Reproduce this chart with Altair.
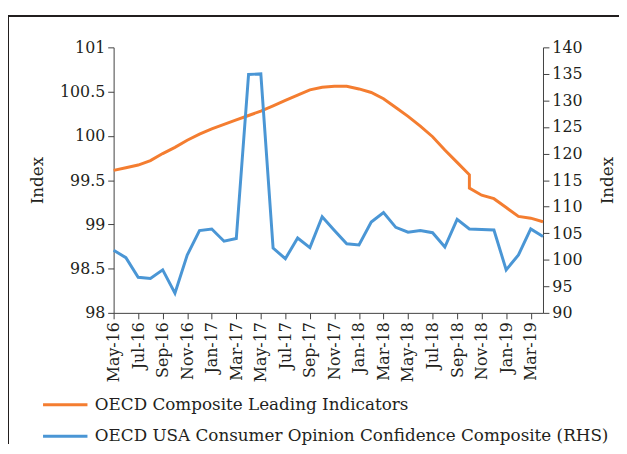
import altair as alt
import pandas as pd

months = ["May-16", "Jun-16", "Jul-16", "Aug-16", "Sep-16", "Oct-16", "Nov-16", "Dec-16",
          "Jan-17", "Feb-17", "Mar-17", "Apr-17", "May-17", "Jun-17", "Jul-17", "Aug-17",
          "Sep-17", "Oct-17", "Nov-17", "Dec-17", "Jan-18", "Feb-18", "Mar-18", "Apr-18",
          "May-18", "Jun-18", "Jul-18", "Aug-18", "Sep-18", "Oct-18", "Nov-18", "Dec-18",
          "Jan-19", "Feb-19", "Mar-19", "Apr-19"]

# OECD Composite Leading Indicators (left axis); Oct-18 has a step (two readings)
cli_months = months[:30] + ["Oct-18"] + months[30:]
cli_values = [99.61, 99.64, 99.67, 99.72, 99.80, 99.87, 99.95, 100.02,
              100.08, 100.13, 100.18, 100.23, 100.28, 100.34, 100.40, 100.46,
              100.52, 100.55, 100.56, 100.56, 100.53, 100.49, 100.42, 100.32,
              100.22, 100.11, 99.99, 99.84, 99.70, 99.56, 99.41, 99.33, 99.29,
              99.19, 99.09, 99.07, 99.03]

# OECD USA Consumer Opinion Confidence Composite (right axis)
cci_values = [101.8, 100.4, 96.7, 96.5, 98.1, 93.7, 100.9, 105.5,
              105.8, 103.5, 104.0, 134.9, 135.0, 102.2, 100.2, 104.1,
              102.3, 108.1, 105.5, 103.0, 102.8, 107.1, 108.9, 106.1,
              105.2, 105.5, 105.1, 102.4, 107.6, 105.8, 105.7, 105.6,
              98.1, 100.9, 105.8, 104.4]

series_names = ["OECD Composite Leading Indicators",
                "OECD USA Consumer Opinion Confidence Composite (RHS)"]
series_colors = ["#F47D30", "#4A96D5"]

left_ticks = [98, 98.5, 99, 99.5, 100, 100.5, 101]
right_ticks = [90, 95, 100, 105, 110, 115, 120, 125, 130, 135, 140]

cli_df = pd.DataFrame({"month": cli_months, "value": cli_values,
                       "order": list(range(len(cli_values))), "series": series_names[0]})
cci_df = pd.DataFrame({"month": months, "value": cci_values,
                       "order": list(range(len(cci_values))), "series": series_names[1]})

FONT = "DejaVu Serif"
TXT = "#231F20"
AX = "#404040"

x_enc = alt.X("month:O",
              scale=alt.Scale(type="point", domain=months, padding=0),
              axis=alt.Axis(values=months[::2], labelAngle=270, title=None,
                            labelFont=FONT, labelFontSize=16, labelColor=TXT,
                            tickSize=6, labelPadding=3, domainColor=AX, tickColor=AX,
                            grid=False))

color_enc = alt.Color("series:N",
                      scale=alt.Scale(domain=series_names, range=series_colors),
                      legend=alt.Legend(title=None, orient="none", legendX=-73, legendY=338,
                                        symbolType="stroke", symbolSize=2025,
                                        symbolStrokeWidth=3, labelFont=FONT,
                                        labelFontSize=17, labelColor=TXT, labelOffset=6,
                                        rowPadding=-16, padding=0, labelLimit=600))

cli_line = alt.Chart(cli_df).mark_line(strokeWidth=3).encode(
    x=x_enc,
    y=alt.Y("value:Q",
            scale=alt.Scale(domain=[98, 101], zero=False, nice=False),
            axis=alt.Axis(orient="left", values=left_ticks, format="~g", title="Index",
                          labelFont=FONT, labelFontSize=16, labelColor=TXT,
                          tickSize=6, labelPadding=3, domainColor=AX, tickColor=AX,
                          grid=False, titleFont=FONT, titleFontSize=17,
                          titleFontWeight="normal", titleColor=TXT, titleAngle=270,
                          titleX=-77, titleY=134.5, titleAlign="center",
                          titleBaseline="middle")),
    color=color_enc,
    order="order:Q",
)

cci_line = alt.Chart(cci_df).mark_line(strokeWidth=3).encode(
    x=x_enc,
    y=alt.Y("value:Q",
            scale=alt.Scale(domain=[90, 140], zero=False, nice=False),
            axis=alt.Axis(orient="right", values=right_ticks, title="Index",
                          labelFont=FONT, labelFontSize=16, labelColor=TXT,
                          tickSize=6, labelPadding=3, domainColor=AX, tickColor=AX,
                          grid=False, titleFont=FONT, titleFontSize=17,
                          titleFontWeight="normal", titleColor=TXT, titleAngle=270,
                          titleX=65, titleY=134.5, titleAlign="center",
                          titleBaseline="middle")),
    color=color_enc,
    order="order:Q",
)

frame_left = alt.Chart(cli_df).mark_rule(color=TXT, strokeWidth=1).encode(
    x=alt.value(-106.5), y=alt.value(-32), y2=alt.value(401))
frame_top = alt.Chart(cli_df).mark_rule(color=TXT, strokeWidth=1).encode(
    x=alt.value(-106.5), x2=alt.value(512), y=alt.value(-32))

chart = alt.layer(cli_line, cci_line, frame_left, frame_top).resolve_scale(
    y="independent"
).properties(
    width=435, height=269,
    padding={"left": 107, "top": 37, "right": 77, "bottom": 132},
    autosize=alt.AutoSizeParams(type="none"),
    background="white",
).configure_view(stroke="transparent")

chart.save("out.html", embed_options={"renderer": "svg", "actions": False})
